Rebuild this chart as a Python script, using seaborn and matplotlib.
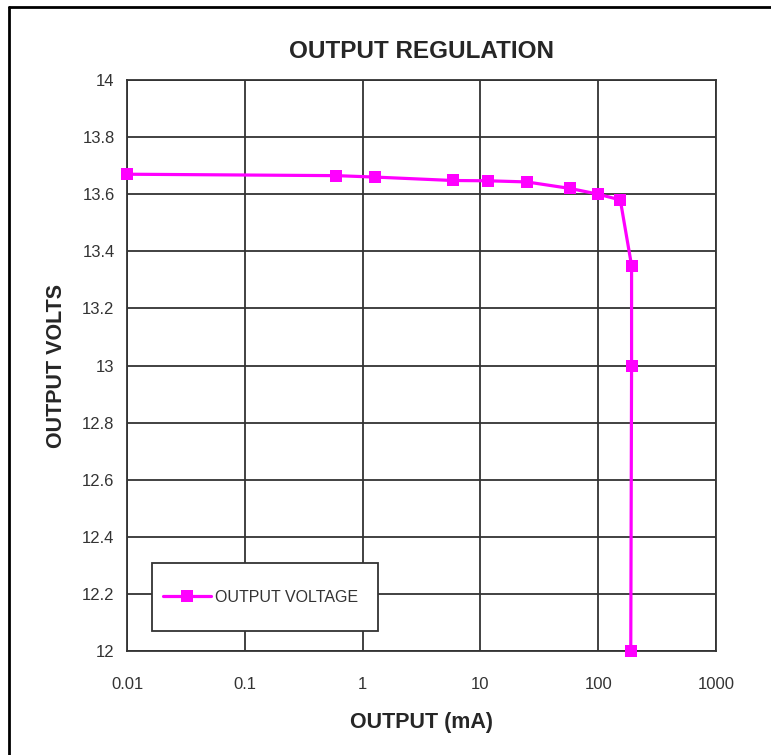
import matplotlib
matplotlib.use("Agg")
import matplotlib.pyplot as plt
import pandas as pd
import seaborn as sns
from matplotlib.lines import Line2D
from matplotlib.patches import Rectangle

# values
output_ma = [0.01, 0.6, 1.27, 5.8, 11.5, 24.7, 58, 100, 154, 192, 192, 189]
output_volts = [13.67, 13.665, 13.66, 13.648, 13.647, 13.643, 13.62, 13.60, 13.58, 13.35, 13.0, 12.0]
x_ticks = [0.01, 0.1, 1, 10, 100, 1000]
x_tick_labels = ["0.01", "0.1", "1", "10", "100", "1000"]
y_ticks = [12, 12.2, 12.4, 12.6, 12.8, 13, 13.2, 13.4, 13.6, 13.8, 14]
y_tick_labels = ["12", "12.2", "12.4", "12.6", "12.8", "13", "13.2", "13.4", "13.6", "13.8", "14"]

df = pd.DataFrame({"ma": output_ma, "volts": output_volts, "series": "OUTPUT VOLTAGE"})

sns.set_style("white")
plt.rcParams["font.family"] = ["Liberation Sans", "DejaVu Sans"]

W, H = 771, 755
fig = plt.figure(figsize=(W / 100, H / 100), dpi=100)
ax = fig.add_axes([127 / W, 1 - 651 / H, 589 / W, 571 / H])

sns.lineplot(
    data=df, x="ma", y="volts", hue="series", palette=["#ff00ff"],
    sort=False, estimator=None, marker="s", markersize=9,
    markeredgewidth=0, linewidth=2.3, ax=ax,
)
for ln in ax.lines:
    ln.set_clip_on(False)
    ln.set_zorder(5)

ax.set_xscale("log")
ax.set_xlim(0.01, 1000)
ax.set_ylim(12, 14)
ax.set_xticks(x_ticks)
ax.set_xticklabels(x_tick_labels)
ax.set_yticks(y_ticks)
ax.set_yticklabels(y_tick_labels)
ax.minorticks_off()
ax.tick_params(axis="both", direction="out", length=5, width=1.2,
               color="#333333", labelsize=12, labelcolor="#333333")
ax.tick_params(axis="x", pad=14)
ax.tick_params(axis="y", pad=4)
ax.grid(True, color="#333333", linewidth=1.3)
for sp in ax.spines.values():
    sp.set_color("#333333")
    sp.set_linewidth(1.3)

ax.set_title("OUTPUT REGULATION", fontsize=17.5, fontweight="bold", pad=16)
ax.set_xlabel("OUTPUT (mA)", fontsize=15.5, fontweight="bold", labelpad=14)
ax.set_ylabel("OUTPUT VOLTS", fontsize=15.5, fontweight="bold", labelpad=11)

# legend box drawn as its own patch so the padding can be uneven
box = Rectangle((25 / 589, 20 / 571), 226 / 589, 68 / 571, transform=ax.transAxes,
                facecolor="white", edgecolor="#333333", linewidth=1.3, zorder=6)
ax.add_patch(box)
leg = ax.legend(
    loc="center left", bbox_to_anchor=(36 / 589, 54 / 571),
    fontsize=11.5, handlelength=3.0, handletextpad=0.25,
    frameon=False, borderaxespad=0, borderpad=0,
)
leg.set_zorder(7)
for t in leg.get_texts():
    t.set_color("#333333")

# only the top and left edges of the outer frame are inside the picture
fig.lines.append(Line2D([9 / W, 9 / W], [0, 1 - 7 / H], transform=fig.transFigure,
                        color="black", linewidth=2))
fig.lines.append(Line2D([9 / W, 1], [1 - 7 / H, 1 - 7 / H], transform=fig.transFigure,
                        color="black", linewidth=2))

fig.savefig("out.png", dpi=100)
